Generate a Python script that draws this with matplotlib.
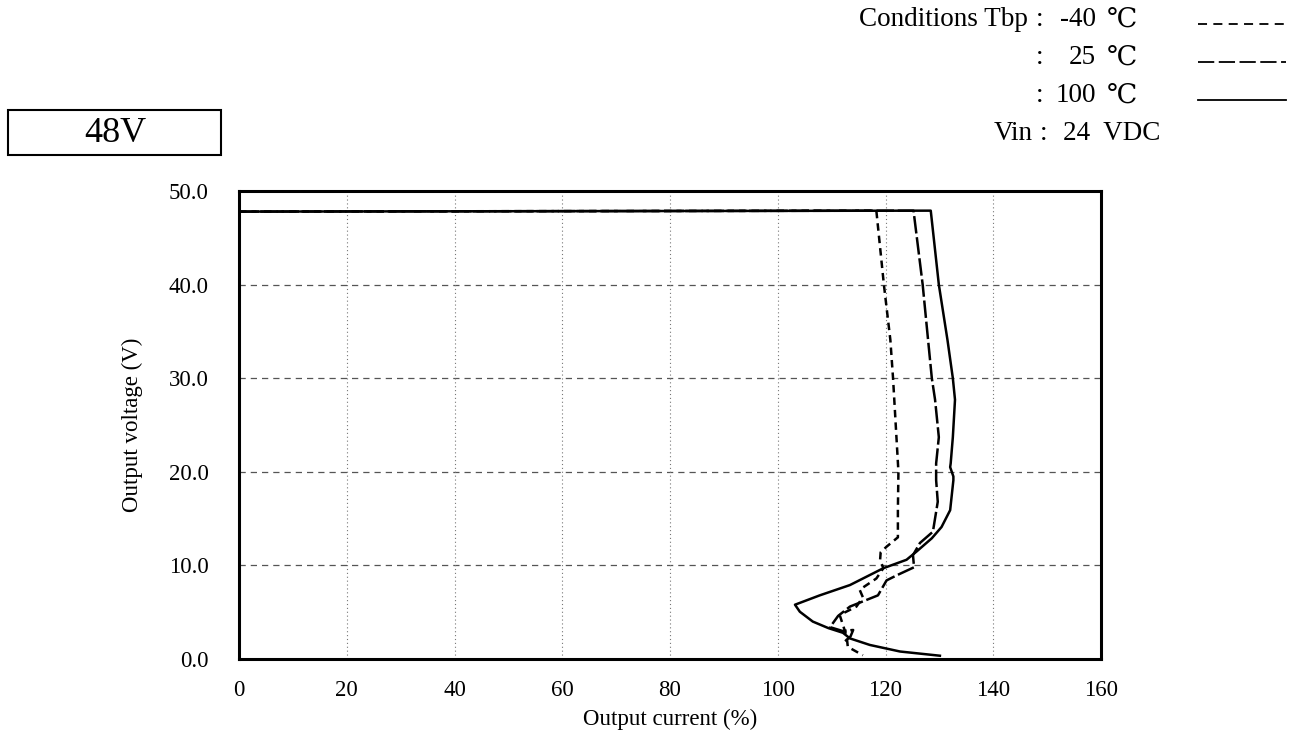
import matplotlib
matplotlib.use("Agg")
import matplotlib.pyplot as plt
from matplotlib.patches import Rectangle

plt.rcParams['font.family'] = ['Liberation Serif', 'DejaVu Serif']

# output current (%) / output voltage (V) at Tbp = -40 C
cur_m40 = [0, 118.3, 119.7, 120.9, 121.4, 122.4, 122.3, 122.3, 120.2, 119.1, 119.0,
           119.6, 118.3, 115.2, 115.8, 114.6, 111.5, 112.8, 113.0, 115.8]
volt_m40 = [47.8, 47.9, 40.0, 34.1, 30.0, 20.0, 16.0, 13.0, 12.0, 11.4, 10.6,
            9.7, 8.6, 7.4, 6.6, 5.6, 4.7, 2.4, 1.3, 0.4]

# Tbp = 25 C
cur_25 = [0, 125.2, 126.9, 127.9, 128.6, 129.2, 129.9, 129.4, 129.4, 129.7, 128.8,
          126.4, 125.1, 125.3, 122.3, 120.2, 118.6, 116.0, 113.4, 111.2, 109.7,
          112.0, 114.0, 113.5, 112.5]
volt_25 = [47.8, 47.9, 40.0, 34.1, 30.0, 27.7, 23.7, 20.9, 19.1, 16.8, 13.6,
           12.4, 11.1, 9.8, 9.0, 8.4, 6.8, 6.2, 5.6, 4.6, 3.4,
           3.0, 3.1, 2.4, 1.9]

# Tbp = 100 C
cur_100 = [0, 128.4, 129.9, 131.5, 132.5, 132.9, 132.5, 132.1, 132.0, 132.6, 132.6,
           132.0, 130.4, 128.6, 125.8, 123.9, 119.6, 113.4, 107.8, 103.2, 104.1,
           106.5, 109.4, 112.1, 113.4, 117.1, 122.7, 130.1]
volt_100 = [47.8, 47.9, 40.0, 34.1, 30.0, 27.7, 23.7, 20.9, 20.5, 19.5, 19.1,
            15.9, 14.1, 12.9, 11.5, 10.6, 9.7, 7.9, 6.8, 5.8, 5.05,
            4.0, 3.3, 2.8, 2.2, 1.5, 0.8, 0.35]

x_ticks = [0, 20, 40, 60, 80, 100, 120, 140, 160]
y_ticks = [0, 10, 20, 30, 40, 50]

W, H = 1307, 755
fig = plt.figure(figsize=(W / 100, H / 100), dpi=100)
ax = fig.add_axes([239 / W, 1 - 659 / H, (1101 - 239) / W, (659 - 191) / H])

style_m40 = (0, (3, 2))
style_25 = (0, (7, 1.5))
ax.plot(cur_m40, volt_m40, color='black', lw=1.8, linestyle=style_m40)
ax.plot(cur_25, volt_25, color='black', lw=1.8, linestyle=style_25)
ax.plot(cur_100, volt_100, color='black', lw=1.8, linestyle='-')

ax.set_xlim(0, 160)
ax.set_ylim(0, 50)
ax.set_xticks(x_ticks)
ax.set_yticks(y_ticks)
ax.set_yticklabels([f"{v:.1f}" for v in y_ticks])
ax.tick_params(length=0, labelsize=16.5)
ax.tick_params(axis='x', pad=15)
ax.tick_params(axis='y', pad=22)

# grid: dashed horizontal, dotted vertical
for v in y_ticks[1:-1]:
    ax.axhline(v, color='#555555', lw=0.9, linestyle=(0, (5, 4)), zorder=0)
for c in x_ticks[1:-1]:
    ax.axvline(c, color='#777777', lw=0.8, linestyle=(0, (1, 2.5)), zorder=0)

for s in ax.spines.values():
    s.set_linewidth(2.2)

ax.set_xlabel("Output current (%)", fontsize=16.5, labelpad=6)
ax.set_ylabel("Output voltage (V)", fontsize=16.5, labelpad=18)

# "48V" box
fig.patches.append(Rectangle((8 / W, 1 - 155 / H), 213 / W, 45 / H,
                             transform=fig.transFigure, fill=False,
                             edgecolor='black', lw=1.5))
fig.text(115 / W, 1 - 133 / H, "48V", fontsize=26, ha='center', va='center')

# conditions legend
fs = 19.5
rows = [("Conditions Tbp", "-40", (0, (5, 3.5))),
        ("", "25", (0, (9, 2.5))),
        ("", "100", '-')]
row_y = [20, 58, 96]
for (lab, temp, ls), yy in zip(rows, row_y):
    yf = 1 - yy / H
    if lab:
        fig.text(1028 / W, yf, lab, fontsize=fs, ha='right', va='center')
    fig.text(1036 / W, yf, ":", fontsize=fs, ha='left', va='center')
    fig.text(1096 / W, yf, temp, fontsize=fs, ha='right', va='center')
    fig.text(1107 / W, yf, "\u2103", fontsize=fs, ha='left', va='center')
    fig.add_artist(plt.Line2D([1198 / W, 1286 / W], [yf - 4 / H, yf - 4 / H],
                              transform=fig.transFigure,
                              color='black', lw=1.3, linestyle=ls))
yv = 1 - 133 / H
fig.text(1033 / W, yv, "Vin", fontsize=fs, ha='right', va='center')
fig.text(1040 / W, yv, ":", fontsize=fs, ha='left', va='center')
fig.text(1063 / W, yv, "24  VDC", fontsize=fs, ha='left', va='center')

fig.savefig("out.png", dpi=100)
